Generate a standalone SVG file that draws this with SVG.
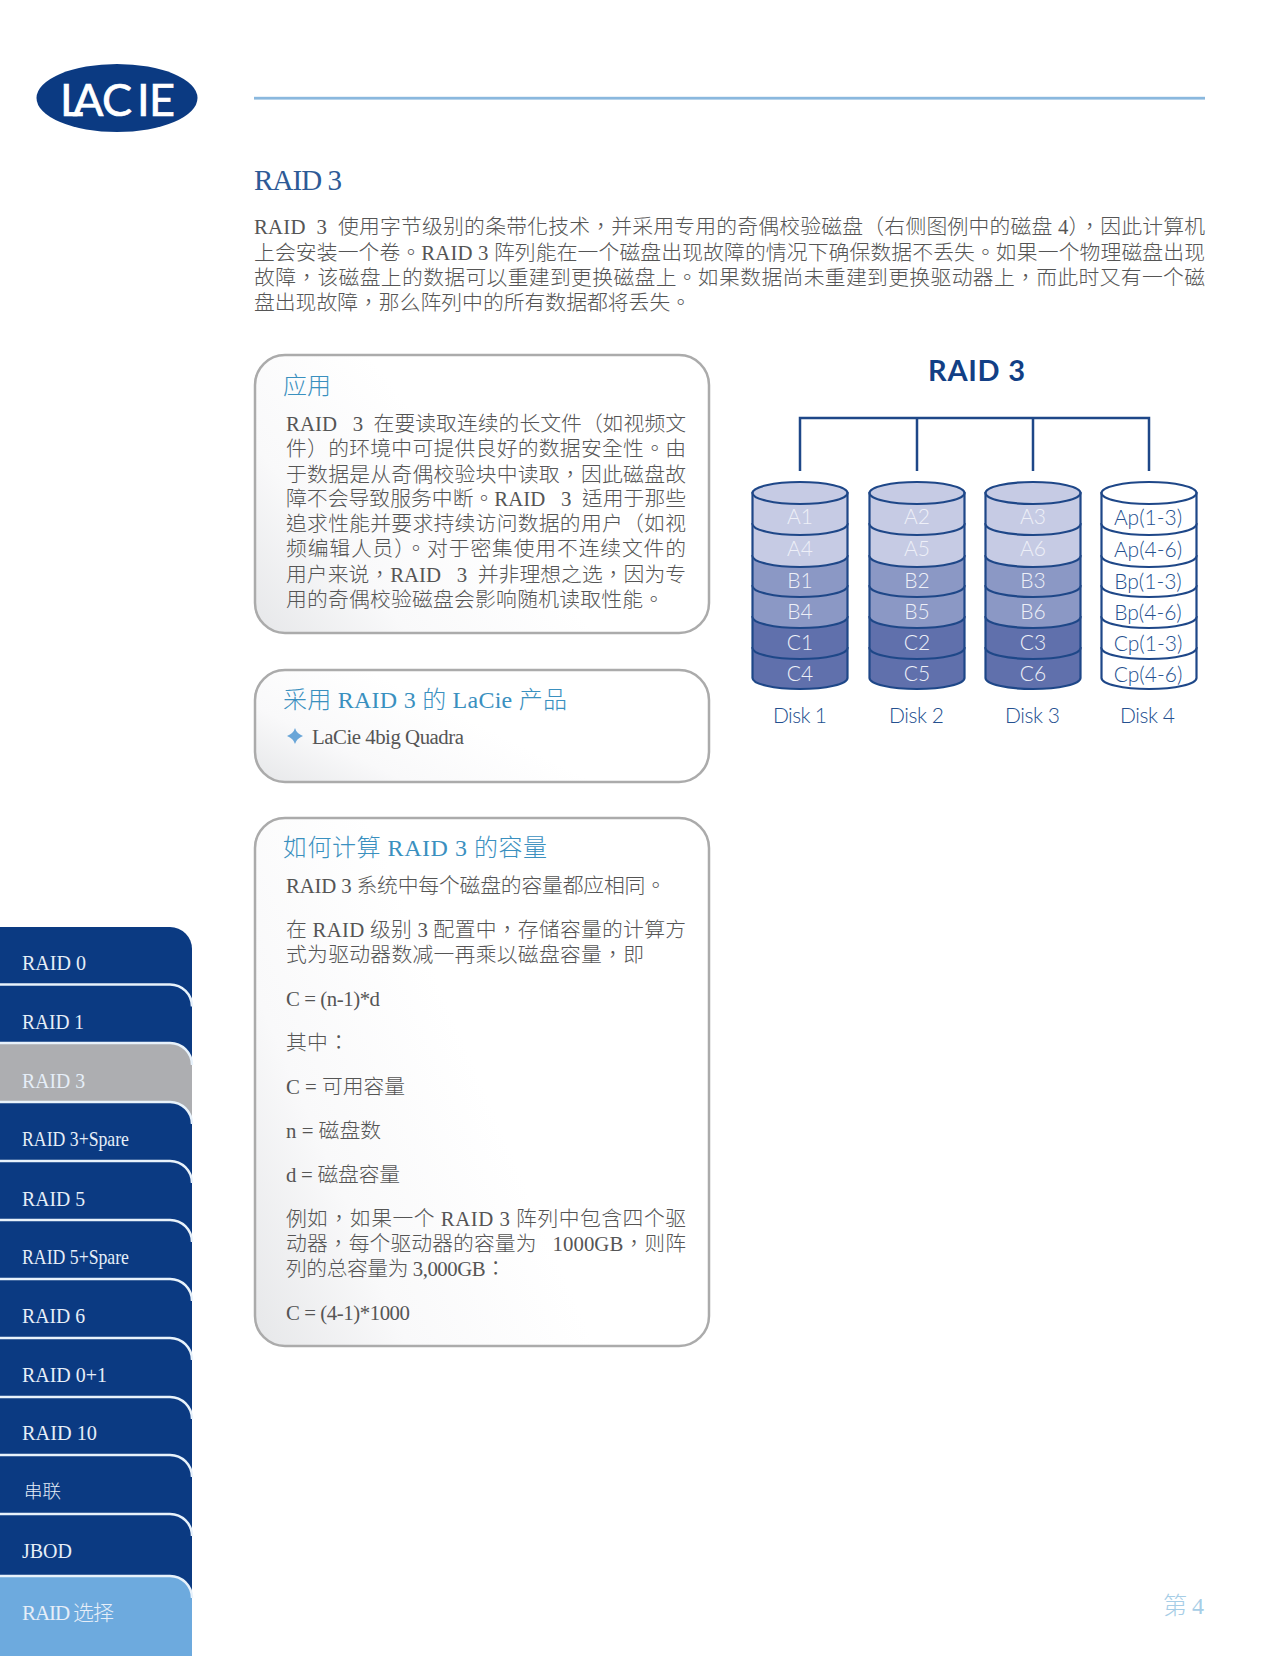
<svg xmlns="http://www.w3.org/2000/svg" width="1280" height="1656" viewBox="0 0 1280 1656">
<style>
text{font-family:"Liberation Serif","Noto Sans CJK TC",serif;white-space:pre}
.b{font-size:20.800px;fill:#555;font-weight:300}
.h{font-size:24px;fill:#3a90bf;font-weight:300}
.t{font-size:21px;fill:#e6eef8;font-weight:300}
.tab{fill:#0b3a82;stroke:none}
.edge{fill:none;stroke:#e8f2fb;stroke-width:2.5}
.box{stroke:#ababab;stroke-width:2.5;fill:url(#boxg)}
.sa{fill:#c6cbe4}.sb{fill:#8b98c5}.sc{fill:#6070ac}.sw{fill:#fff}
.seg{stroke:#1e4788;stroke-width:2.2}
.l{font-family:Lato,"Liberation Sans",sans-serif;font-size:21px;text-anchor:middle;fill:#eef0f8;font-weight:300}
.ld{font-family:Lato,"Liberation Sans",sans-serif;font-size:21px;text-anchor:middle;fill:#24508f;font-weight:300}
.conn{fill:none;stroke:#1e4788;stroke-width:2.5}
</style>
<defs>
<linearGradient id="boxg" x1="0" y1="1" x2="0.6" y2="0.7"><stop offset="0" stop-color="#e6e7e9"/><stop offset="0.45" stop-color="#f9f9fa"/><stop offset="1" stop-color="#fff"/></linearGradient>
</defs>
<rect width="1280" height="1656" fill="#fff"/>
<g id="logo">
<ellipse cx="117" cy="98" rx="80.5" ry="34" fill="#0b3a82"/>
<text x="60 73 102 137 149" y="116" style="font-family:Lato,'Liberation Sans',sans-serif;font-size:45px;fill:#fff;stroke:#fff;stroke-width:.7">LACIE</text>
</g>
<rect id="rule" x="254" y="96.800" width="951" height="2.800" fill="#8ab8de"/>
<g id="intro">
<text x="254" y="190" textLength="88" style="font-size:29px;fill:#2d5a96;font-weight:300">RAID 3</text>
<text class="b" x="254" y="234" textLength="951">RAID  3  使用字节级别的条带化技术，并采用专用的奇偶校验磁盘（右侧图例中的磁盘 4），因此计算机</text>
<text class="b" x="254" y="260" textLength="951">上会安装一个卷。RAID 3 阵列能在一个磁盘出现故障的情况下确保数据不丢失。如果一个物理磁盘出现</text>
<text class="b" x="254" y="285" textLength="951">故障，该磁盘上的数据可以重建到更换磁盘上。如果数据尚未重建到更换驱动器上，而此时又有一个磁</text>
<text class="b" x="254" y="310" textLength="437">盘出现故障，那么阵列中的所有数据都将丢失。</text>
</g>
<g id="box-app">
<rect class="box" x="255" y="355" width="454" height="278" rx="30"/>
<text class="h" x="283" y="394">应用</text>
<text class="b" x="286" y="431" textLength="400">RAID   3  在要读取连续的长文件（如视频文</text>
<text class="b" x="286" y="456" textLength="400">件）的环境中可提供良好的数据安全性。由</text>
<text class="b" x="286" y="482" textLength="400">于数据是从奇偶校验块中读取，因此磁盘故</text>
<text class="b" x="286" y="506" textLength="400">障不会导致服务中断。RAID   3  适用于那些</text>
<text class="b" x="286" y="531" textLength="400">追求性能并要求持续访问数据的用户（如视</text>
<text class="b" x="286" y="556" textLength="400">频编辑人员）。对于密集使用不连续文件的</text>
<text class="b" x="286" y="582" textLength="400">用户来说，RAID   3  并非理想之选，因为专</text>
<text class="b" x="286" y="607" textLength="378">用的奇偶校验磁盘会影响随机读取性能。</text>
</g>
<g id="box-products">
<rect class="box" x="255" y="670" width="454" height="112" rx="30"/>
<text class="h" x="283" y="708" textLength="284">采用 RAID 3 的 LaCie 产品</text>
<path d="M295,728 Q296.500,733.500 303,736 Q296.500,738.500 295,744 Q293.500,738.500 287,736 Q293.500,733.500 295,728Z" fill="#6aa6d8"/>
<text class="b" x="312" y="744" textLength="152">LaCie 4big Quadra</text>
</g>
<g id="box-capacity">
<rect class="box" x="255" y="818" width="454" height="528" rx="30"/>
<text class="h" x="283" y="856" textLength="264">如何计算 RAID 3 的容量</text>
<text class="b" x="286" y="893" textLength="380">RAID 3 系统中每个磁盘的容量都应相同。</text>
<text class="b" x="286" y="937" textLength="400">在 RAID 级别 3 配置中，存储容量的计算方</text>
<text class="b" x="286" y="962" textLength="358">式为驱动器数减一再乘以磁盘容量，即</text>
<text class="b" x="286" y="1006" textLength="94">C = (n-1)*d</text>
<text class="b" x="286" y="1050" textLength="63">其中：</text>
<text class="b" x="286" y="1094" textLength="119">C = 可用容量</text>
<text class="b" x="286" y="1138" textLength="95">n = 磁盘数</text>
<text class="b" x="286" y="1182" textLength="114">d = 磁盘容量</text>
<text class="b" x="286" y="1226" textLength="400">例如，如果一个 RAID 3 阵列中包含四个驱</text>
<text class="b" x="286" y="1251" textLength="400">动器，每个驱动器的容量为   1000GB，则阵</text>
<text class="b" x="286" y="1276" textLength="220">列的总容量为 3,000GB：</text>
<text class="b" x="286" y="1320" textLength="124">C = (4-1)*1000</text>
</g>
<g id="raid-title"><text x="928" y="381" textLength="97" style="font-family:Lato,'Liberation Sans',sans-serif;font-weight:700;font-size:29px;fill:#123f85">RAID 3</text></g>
<g id="connectors">
<path class="conn" d="M800,471V418H1149V471M917,418V471M1033,418V471"/>
</g>
<g id="disk-1" transform="translate(800 0)">
<path class="seg sc" d="M-47.500,648V678A47.500,11 0 0 0 47.500,678V648Z"/>
<path class="seg sc" d="M-47.500,617V648A47.500,11 0 0 0 47.500,648V617Z"/>
<path class="seg sb" d="M-47.500,586V617A47.500,11 0 0 0 47.500,617V586Z"/>
<path class="seg sb" d="M-47.500,556V586A47.500,11 0 0 0 47.500,586V556Z"/>
<path class="seg sa" d="M-47.500,524V556A47.500,11 0 0 0 47.500,556V524Z"/>
<path class="seg sa" d="M-47.500,493V524A47.500,11 0 0 0 47.500,524V493Z"/>
<ellipse class="seg sa" cx="0" cy="493" rx="47.500" ry="11"/>
<text class="l" y="524">A1</text><text class="l" y="556">A4</text><text class="l" y="588">B1</text><text class="l" y="619">B4</text><text class="l" y="650">C1</text><text class="l" y="681">C4</text>
<text class="ld" y="723" textLength="54" x="-27" style="text-anchor:start">Disk 1</text>
</g>
<g id="disk-2" transform="translate(917 0)">
<path class="seg sc" d="M-47.500,648V678A47.500,11 0 0 0 47.500,678V648Z"/>
<path class="seg sc" d="M-47.500,617V648A47.500,11 0 0 0 47.500,648V617Z"/>
<path class="seg sb" d="M-47.500,586V617A47.500,11 0 0 0 47.500,617V586Z"/>
<path class="seg sb" d="M-47.500,556V586A47.500,11 0 0 0 47.500,586V556Z"/>
<path class="seg sa" d="M-47.500,524V556A47.500,11 0 0 0 47.500,556V524Z"/>
<path class="seg sa" d="M-47.500,493V524A47.500,11 0 0 0 47.500,524V493Z"/>
<ellipse class="seg sa" cx="0" cy="493" rx="47.500" ry="11"/>
<text class="l" y="524">A2</text><text class="l" y="556">A5</text><text class="l" y="588">B2</text><text class="l" y="619">B5</text><text class="l" y="650">C2</text><text class="l" y="681">C5</text>
<text class="ld" y="723" textLength="55" x="-28" style="text-anchor:start">Disk 2</text>
</g>
<g id="disk-3" transform="translate(1033 0)">
<path class="seg sc" d="M-47.500,648V678A47.500,11 0 0 0 47.500,678V648Z"/>
<path class="seg sc" d="M-47.500,617V648A47.500,11 0 0 0 47.500,648V617Z"/>
<path class="seg sb" d="M-47.500,586V617A47.500,11 0 0 0 47.500,617V586Z"/>
<path class="seg sb" d="M-47.500,556V586A47.500,11 0 0 0 47.500,586V556Z"/>
<path class="seg sa" d="M-47.500,524V556A47.500,11 0 0 0 47.500,556V524Z"/>
<path class="seg sa" d="M-47.500,493V524A47.500,11 0 0 0 47.500,524V493Z"/>
<ellipse class="seg sa" cx="0" cy="493" rx="47.500" ry="11"/>
<text class="l" y="524">A3</text><text class="l" y="556">A6</text><text class="l" y="588">B3</text><text class="l" y="619">B6</text><text class="l" y="650">C3</text><text class="l" y="681">C6</text>
<text class="ld" y="723" textLength="55" x="-28" style="text-anchor:start">Disk 3</text>
</g>
<g id="disk-4" transform="translate(1149 0)">
<path class="seg sw" d="M-47.500,648V678A47.500,11 0 0 0 47.500,678V648Z"/>
<path class="seg sw" d="M-47.500,617V648A47.500,11 0 0 0 47.500,648V617Z"/>
<path class="seg sw" d="M-47.500,586V617A47.500,11 0 0 0 47.500,617V586Z"/>
<path class="seg sw" d="M-47.500,556V586A47.500,11 0 0 0 47.500,586V556Z"/>
<path class="seg sw" d="M-47.500,524V556A47.500,11 0 0 0 47.500,556V524Z"/>
<path class="seg sw" d="M-47.500,493V524A47.500,11 0 0 0 47.500,524V493Z"/>
<ellipse class="seg sw" cx="0" cy="493" rx="47.500" ry="11"/>
<text class="ld" x="-1" y="525">Ap(1-3)</text><text class="ld" x="-1" y="557">Ap(4-6)</text><text class="ld" x="-1" y="589">Bp(1-3)</text><text class="ld" x="-1" y="620">Bp(4-6)</text><text class="ld" x="-1" y="651">Cp(1-3)</text><text class="ld" x="-1" y="682">Cp(4-6)</text>
<text class="ld" y="723" textLength="55" x="-29" style="text-anchor:start">Disk 4</text>
</g>
<g id="sidebar">
<g id="tab-raid0"><path class="tab" d="M0,927H170A22,22 0 0 1 192,949V1010H0Z"/><text class="t" x="22" y="970" textLength="64" lengthAdjust="spacingAndGlyphs">RAID 0</text></g>
<g id="tab-raid1"><path class="tab" d="M0,984.500H170A22,22 0 0 1 192,1006.500V1070H0Z"/><path class="edge" d="M0,984.500H170A22,22 0 0 1 192,1006.500"/><text class="t" x="22" y="1029" textLength="62" lengthAdjust="spacingAndGlyphs">RAID 1</text></g>
<g id="tab-raid3"><path d="M0,1043H170A22,22 0 0 1 192,1065V1130H0Z" fill="#adaeb1"/><path class="edge" d="M0,1043H170A22,22 0 0 1 192,1065"/><text class="t" x="22" y="1088" textLength="63" lengthAdjust="spacingAndGlyphs">RAID 3</text></g>
<g id="tab-raid3s"><path class="tab" d="M0,1102H170A22,22 0 0 1 192,1124V1190H0Z"/><path class="edge" d="M0,1102H170A22,22 0 0 1 192,1124"/><text class="t" x="22" y="1146" textLength="107" lengthAdjust="spacingAndGlyphs">RAID 3+Spare</text></g>
<g id="tab-raid5"><path class="tab" d="M0,1161H170A22,22 0 0 1 192,1183V1250H0Z"/><path class="edge" d="M0,1161H170A22,22 0 0 1 192,1183"/><text class="t" x="22" y="1206" textLength="63" lengthAdjust="spacingAndGlyphs">RAID 5</text></g>
<g id="tab-raid5s"><path class="tab" d="M0,1220H170A22,22 0 0 1 192,1242V1310H0Z"/><path class="edge" d="M0,1220H170A22,22 0 0 1 192,1242"/><text class="t" x="22" y="1264" textLength="107" lengthAdjust="spacingAndGlyphs">RAID 5+Spare</text></g>
<g id="tab-raid6"><path class="tab" d="M0,1279H170A22,22 0 0 1 192,1301V1370H0Z"/><path class="edge" d="M0,1279H170A22,22 0 0 1 192,1301"/><text class="t" x="22" y="1323" textLength="63" lengthAdjust="spacingAndGlyphs">RAID 6</text></g>
<g id="tab-raid01"><path class="tab" d="M0,1338H170A22,22 0 0 1 192,1360V1430H0Z"/><path class="edge" d="M0,1338H170A22,22 0 0 1 192,1360"/><text class="t" x="22" y="1382" textLength="85" lengthAdjust="spacingAndGlyphs">RAID 0+1</text></g>
<g id="tab-raid10"><path class="tab" d="M0,1397H170A22,22 0 0 1 192,1419V1490H0Z"/><path class="edge" d="M0,1397H170A22,22 0 0 1 192,1419"/><text class="t" x="22" y="1440" textLength="75" lengthAdjust="spacingAndGlyphs">RAID 10</text></g>
<g id="tab-concat"><path class="tab" d="M0,1455H170A22,22 0 0 1 192,1477V1550H0Z"/><path class="edge" d="M0,1455H170A22,22 0 0 1 192,1477"/><text class="t" x="24" y="1498" style="font-size:18.500px">串联</text></g>
<g id="tab-jbod"><path class="tab" d="M0,1514H170A22,22 0 0 1 192,1536V1600H0Z"/><path class="edge" d="M0,1514H170A22,22 0 0 1 192,1536"/><text class="t" x="22" y="1558" textLength="50" lengthAdjust="spacingAndGlyphs">JBOD</text></g>
<g id="tab-select"><path d="M0,1576H170A22,22 0 0 1 192,1598V1656H0Z" fill="#6daade"/><path class="edge" d="M0,1576H170A22,22 0 0 1 192,1598"/><text class="t" x="22" y="1620" textLength="92">RAID 选择</text></g>
</g>
<g id="page"><text x="1163" y="1614" textLength="41" style="font-size:24px;fill:#a6cde6;font-weight:300">第 4</text></g>
</svg>
